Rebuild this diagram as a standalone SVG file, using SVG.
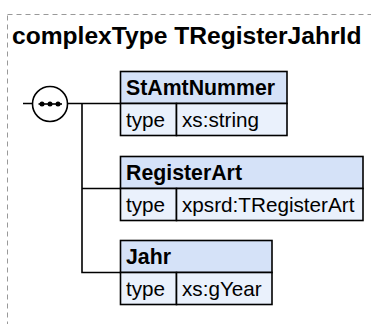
<svg xmlns="http://www.w3.org/2000/svg" width="371" height="324" viewBox="0 0 371 324">
<style>
.frame{fill:none;stroke:#999;stroke-width:1;stroke-dasharray:5,4}
.title{font-family:"Liberation Sans",Arial,sans-serif;font-weight:bold;font-size:24.6px;fill:#000}
.hd{fill:#d5e2f8;stroke:#000;stroke-width:1.6}
.row{fill:#eaf1fc;stroke:#000;stroke-width:1.6}
.name{font-family:"Liberation Sans",Arial,sans-serif;font-weight:bold;font-size:21.3px;fill:#000}
.txt{font-family:"Liberation Sans",Arial,sans-serif;font-size:20.7px;fill:#000}
.wire{fill:none;stroke:#000;stroke-width:1.6}
</style>
<rect class="frame" x="7.5" y="14.5" width="400" height="350"/>
<text class="title" x="12" y="44">complexType TRegisterJahrId</text>
<g id="connectors">
<path class="wire" d="M23 103.5H32.5M67.5 103.5H120M82 103.5V272.5H120M82 188.5H120"/>
</g>
<g id="sequence">
<circle cx="50" cy="104" r="17.5" fill="#fff" stroke="#000" stroke-width="1.6"/>
<path d="M38.5 104H62" stroke="#000" stroke-width="1.6"/>
<circle cx="42" cy="104" r="2.5"/>
<circle cx="50" cy="104" r="2.5"/>
<circle cx="58" cy="104" r="2.5"/>
</g>
<g id="StAmtNummer">
<rect class="hd" x="120.5" y="71.5" width="166.5" height="32"/>
<rect class="row" x="120.5" y="103.5" width="56" height="32"/>
<rect class="row" x="176.5" y="103.5" width="110.5" height="32"/>
<text class="name" x="126" y="95">StAmtNummer</text>
<text class="txt" x="126" y="127">type</text>
<text class="txt" x="182" y="127">xs:string</text>
</g>
<g id="RegisterArt">
<rect class="hd" x="120.5" y="156.5" width="242.5" height="32"/>
<rect class="row" x="120.5" y="188.5" width="56" height="32"/>
<rect class="row" x="176.5" y="188.5" width="186.5" height="32"/>
<text class="name" x="126" y="180">RegisterArt</text>
<text class="txt" x="126" y="212">type</text>
<text class="txt" x="182" y="212">xpsrd:TRegisterArt</text>
</g>
<g id="Jahr">
<rect class="hd" x="120.5" y="240.5" width="151.5" height="32"/>
<rect class="row" x="120.5" y="272.5" width="56" height="32"/>
<rect class="row" x="176.5" y="272.5" width="95.5" height="32"/>
<text class="name" x="126" y="264">Jahr</text>
<text class="txt" x="126" y="296">type</text>
<text class="txt" x="182" y="296">xs:gYear</text>
</g>
</svg>
